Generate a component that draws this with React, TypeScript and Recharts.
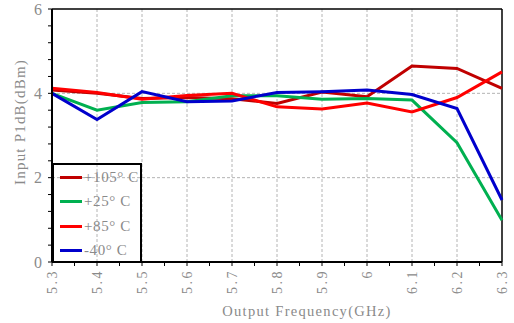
import {
  CartesianGrid,
  Label,
  Legend,
  Line,
  LineChart,
  ReferenceLine,
  XAxis,
  YAxis,
} from "recharts";

// Output frequency (GHz) sampled every 100 MHz
const freqs = [5.3, 5.4, 5.5, 5.6, 5.7, 5.8, 5.9, 6.0, 6.1, 6.2, 6.3];

// Input P1dB (dBm) at each temperature
const p105 = [4.08, 4.0, 3.88, 3.9, 3.87, 3.76, 4.03, 3.92, 4.65, 4.59, 4.12];
const p25 = [4.0, 3.6, 3.78, 3.8, 3.94, 3.94, 3.86, 3.88, 3.84, 2.83, 0.99];
const p85 = [4.12, 4.02, 3.86, 3.95, 4.0, 3.68, 3.63, 3.77, 3.56, 3.9, 4.51];
const m40 = [4.0, 3.38, 4.04, 3.8, 3.82, 4.02, 4.04, 4.08, 3.97, 3.64, 1.47];

// axis ticks: labelled majors plus unlabelled minors
const xMajor = [5.3, 5.4, 5.5, 5.6, 5.7, 5.8, 5.9, 6.0, 6.1, 6.2, 6.3];
const xMinor = [5.35, 5.45, 5.55, 5.65, 5.75, 5.85, 5.95, 6.05, 6.15, 6.25];
const yMajor = [0, 2, 4, 6];
const yMinor = [0.4, 0.8, 1.2, 1.6, 2.4, 2.8, 3.2, 3.6, 4.4, 4.8, 5.2, 5.6];

const series = [
  { key: "p105", name: "+105° C", color: "#c00000", values: p105 },
  { key: "p25", name: "+25° C", color: "#00b050", values: p25 },
  { key: "p85", name: "+85° C", color: "#ff0000", values: p85 },
  { key: "m40", name: "-40° C", color: "#0000cc", values: m40 },
];

const data = freqs.map((f, i) => {
  const row: Record<string, number> = { freq: f };
  series.forEach((s) => (row[s.key] = s.values[i]));
  return row;
});

const FONT = "'Liberation Serif', 'DejaVu Serif', serif";
const TEXT = "#8a8a8a";
const GRID = "#b4b4b4";

const isMajor = (v: number, list: number[]) =>
  list.some((m) => Math.abs(m - v) < 1e-6);

function XTick({ x, y, payload }: any) {
  const v = payload.value as number;
  if (!isMajor(v, xMajor)) return null;
  return (
    <text
      x={x}
      y={y}
      transform={`rotate(-90 ${x} ${y})`}
      textAnchor="end"
      dy="0.35em"
      fill={TEXT}
      fontSize={14}
      letterSpacing={2.5}
      fontFamily={FONT}
    >
      {String(+v.toFixed(2))}
    </text>
  );
}

function YTick({ x, y, payload }: any) {
  const v = payload.value as number;
  if (!isMajor(v, yMajor)) return null;
  return (
    <text
      x={x}
      y={y}
      textAnchor="end"
      dy="0.35em"
      fill={TEXT}
      fontSize={16}
      fontFamily={FONT}
    >
      {v}
    </text>
  );
}

function LegendBox() {
  return (
    <div
      style={{
        width: 86,
        height: 96,
        border: "2px solid #000",
        position: "relative",
        fontFamily: FONT,
        fontSize: 15,
        letterSpacing: 0.6,
        color: TEXT,
        whiteSpace: "nowrap",
      }}
    >
      {series.map((s, i) => (
        <div
          key={s.key}
          style={{
            position: "absolute",
            left: 6,
            top: 2 + i * 24.5,
            height: 20,
            display: "flex",
            alignItems: "center",
          }}
        >
          <span
            style={{
              display: "inline-block",
              width: 22,
              height: 3,
              background: s.color,
              marginRight: 2,
            }}
          />
          <span>{s.name}</span>
        </div>
      ))}
    </div>
  );
}

export default function App() {
  return (
    <div style={{ position: "absolute", left: 0, top: 0, background: "#fff" }}>
      <LineChart
        width={514}
        height={323}
        data={data}
        margin={{ top: 9, right: 12, bottom: 0, left: 0 }}
      >
        <CartesianGrid stroke="none" />
        {xMajor.slice(1, -1).map((v) => (
          <ReferenceLine
            key={`gx${v}`}
            x={v}
            stroke={GRID}
            strokeDasharray="3 2"
          />
        ))}
        {[2, 4].map((v) => (
          <ReferenceLine
            key={`gy${v}`}
            y={v}
            stroke={GRID}
            strokeDasharray="3 2"
          />
        ))}
        <ReferenceLine y={6} stroke="#000" strokeWidth={1.5} />
        <ReferenceLine x={6.3} stroke="#000" strokeWidth={1.5} />
        <XAxis
          dataKey="freq"
          type="number"
          domain={[5.3, 6.3]}
          ticks={[...xMajor, ...xMinor].sort((a, b) => a - b)}
          interval={0}
          height={61}
          axisLine={{ stroke: "#000", strokeWidth: 2 }}
          tickLine={{ stroke: "#000", strokeWidth: 1 }}
          tickSize={4}
          tickMargin={3}
          tick={<XTick />}
        >
          <Label
            content={() => (
              <text
                x={307}
                y={316}
                textAnchor="middle"
                fill={TEXT}
                fontSize={14.5}
                letterSpacing={1.3}
                fontFamily={FONT}
              >
                Output Frequency(GHz)
              </text>
            )}
          />
        </XAxis>
        <YAxis
          type="number"
          domain={[0, 6]}
          ticks={[...yMajor, ...yMinor].sort((a, b) => a - b)}
          interval={0}
          width={52}
          axisLine={{ stroke: "#000", strokeWidth: 2 }}
          tickLine={{ stroke: "#000", strokeWidth: 1 }}
          tickSize={4}
          tickMargin={6}
          tick={<YTick />}
        >
          <Label
            content={() => (
              <text
                x={20}
                y={122}
                transform="rotate(-90 20 122)"
                textAnchor="middle"
                dy="0.35em"
                fill={TEXT}
                fontSize={15}
                letterSpacing={1.2}
                fontFamily={FONT}
              >
                Input P1dB(dBm)
              </text>
            )}
          />
        </YAxis>
        <Legend
          layout="vertical"
          align="center"
          verticalAlign="middle"
          wrapperStyle={{ left: 52, top: 163, width: 90 }}
          content={() => <LegendBox />}
        />
        {series.map((s) => (
          <Line
            key={s.key}
            dataKey={s.key}
            name={s.name}
            type="linear"
            stroke={s.color}
            strokeWidth={3}
            dot={false}
            isAnimationActive={false}
          />
        ))}
      </LineChart>
    </div>
  );
}
